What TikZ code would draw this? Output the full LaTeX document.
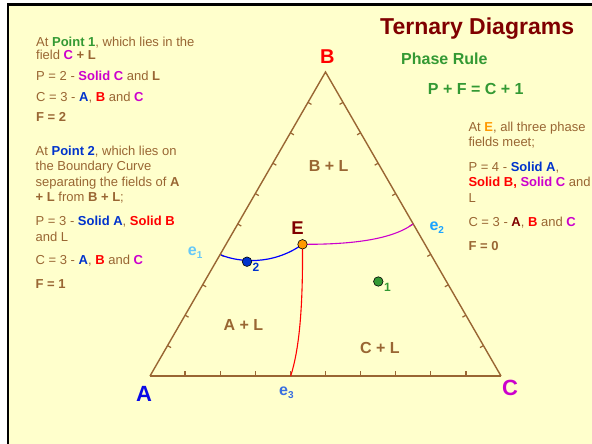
\documentclass[tikz,border=0pt]{standalone}
\usepackage{fontspec}
\usetikzlibrary{calc}
\setmainfont{Liberation Sans}
\definecolor{bgy}{HTML}{FFFFCC}
\definecolor{brn}{HTML}{996633}
\definecolor{pgreen}{HTML}{339933}
\definecolor{pblue}{HTML}{0033CC}
\definecolor{pred}{HTML}{FF0000}
\definecolor{pmag}{HTML}{CC00CC}
\definecolor{porange}{HTML}{FF9900}
\definecolor{pdred}{HTML}{800000}
\definecolor{eone}{HTML}{66C8F8}
\definecolor{etwo}{HTML}{1AA3FF}
\definecolor{ethree}{HTML}{3A6FE0}
\definecolor{abl}{HTML}{0A0AE6}
\newcommand\bld[2]{\textcolor{#1}{\textbf{#2}}}
\begin{document}
\begin{tikzpicture}[x=1pt,y=-1pt,
  txt/.style={anchor=base west,inner sep=0pt,text=brn,font=\fontsize{13}{15}\selectfont},
  vlab/.style={inner sep=0pt,font=\fontsize{22}{22}\selectfont\bfseries},
  reg/.style={inner sep=0pt,text=brn,font=\fontsize{16}{16}\selectfont\bfseries},
  elab/.style={anchor=base west,inner sep=0pt,font=\fontsize{16}{16}\selectfont\bfseries},
  plab/.style={anchor=base west,inner sep=0pt,font=\fontsize{12}{12}\selectfont\bfseries},
  side/.style={draw=brn,line width=1.4pt},
  tick/.style={draw=brn,line width=1.2pt},
  dot/.style={circle,draw=black,line width=0.6pt,minimum size=9.5pt,inner sep=0pt}]
\useasboundingbox (0,0) rectangle (592,444);
\fill[white] (0,0) rectangle (592,444);
\fill[bgy] (8,4.7) rectangle (592,444);
\draw[black,line width=2.7pt] (8,444) -- (8,4.7) -- (592,4.7);

% triangle corners
\coordinate (A) at (150,376);
\coordinate (C) at (501,376);
\coordinate (B) at (325.5,72);
\draw[side] (A) -- (B) -- (C);
\draw[brn,line width=2.2pt] (A) -- (C);
% ticks
\foreach \k in {1,...,9}{
  \draw[tick] ($(A)!\k/10!(C)$) -- ++(0,-5);
  \draw[tick] ($(A)!\k/10!(B)$) -- ++(3.5,2.0);
  \draw[tick] ($(C)!\k/10!(B)$) -- ++(-3.5,2.0);
}

% vertex labels
\node[vlab,text=abl] (lA) at (144,393.5) {A};
\node[vlab,text=pmag] (lC) at (510,388) {C};
\node[vlab,text=pred,font=\fontsize{20}{20}\selectfont\bfseries] (lB) at (327.3,57) {B};

% boundary curves
\coordinate (e1) at (221,255);
\coordinate (e2) at (413,224);
\coordinate (e3) at (290.7,376);
\coordinate (Ep) at (302.5,244.3);
\draw[blue,line width=1.2pt] (e1) .. controls (238,262) and (272,266) .. (Ep);
\draw[pmag,line width=1.1pt] (Ep) .. controls (345,244.5) and (390,241) .. (e2);
\draw[red,line width=1.1pt] (Ep) .. controls (303,310) and (299,350) .. (e3);

% points
\node[dot,fill=pblue] (p2) at (247,261.7) {};
\node[dot,fill=pgreen] (p1) at (378.3,281.5) {};
\node[dot,fill=porange] (pE) at (302.5,244.3) {};
\node[plab,text=pblue] (n2) at (252.3,271.7) {2};
\node[plab,text=pgreen] (n1) at (384,291.7) {1};
\node[inner sep=0pt,text=pdred,font=\fontsize{18.5}{18.5}\selectfont\bfseries] (lE) at (297.5,228.3) {E};

% e labels
\node[elab,text=eone] (le1) at (187.7,255) {e\raisebox{-3.5pt}{\fontsize{10}{10}\selectfont 1}};
\node[elab,text=etwo] (le2) at (429.3,230) {e\raisebox{-3.5pt}{\fontsize{10}{10}\selectfont 2}};
\node[elab,text=ethree] (le3) at (279,395) {e\raisebox{-3.5pt}{\fontsize{10}{10}\selectfont 3}};

% region labels
\node[reg] (rBL) at (328.7,165.8) {B + L};
\node[reg] (rAL) at (243.3,324.7) {A + L};
\node[reg] (rCL) at (380,347.5) {C + L};

% title
\node[anchor=base west,inner sep=0pt,text=pdred,font=\fontsize{23}{23}\selectfont\bfseries] (title) at (380,35) {Ternary Diagrams};
\node[anchor=base west,inner sep=0pt,text=pgreen,font=\fontsize{16}{16}\selectfont\bfseries] (pr) at (401,65) {Phase Rule};
\node[anchor=base west,inner sep=0pt,text=pgreen,font=\fontsize{16}{16}\selectfont\bfseries] (eq) at (427.7,94.3) {P + F = C + 1};

% left text
\node[txt] (t1) at (36,46.7) {At \bld{pgreen}{Point 1}, which lies in the};
\node[txt] (t2) at (36,59.3) {field \bld{pmag}{C} \textbf{+ L}};
\node[txt] (t3) at (36,80.5) {P = 2 - \bld{pmag}{Solid C} and \textbf{L}};
\node[txt] (t4) at (36,101) {C = 3 - \bld{pblue}{A}, \bld{pred}{B} and \bld{pmag}{C}};
\node[txt] (t5) at (36,121.5) {\textbf{F = 2}};
\node[txt] (t6) at (35.5,155) {At \bld{pblue}{Point 2}, which lies on};
\node[txt] (t7) at (35.5,170) {the Boundary Curve};
\node[txt] (t8) at (35.5,186) {separating the fields of \textbf{A}};
\node[txt] (t9) at (35.5,201.5) {\textbf{+ L} from \textbf{B + L};};
\node[txt] (t10) at (35.5,225.5) {P = 3 - \bld{pblue}{Solid A}, \bld{pred}{Solid B}};
\node[txt] (t11) at (35.5,241.5) {and L};
\node[txt] (t12) at (35.5,264.3) {C = 3 - \bld{pblue}{A}, \bld{pred}{B} and \bld{pmag}{C}};
\node[txt] (t13) at (35.5,288) {\textbf{F = 1}};

% right text
\node[txt] (r1) at (468.3,131.5) {At \bld{porange}{E}, all three phase};
\node[txt] (r2) at (468.3,146.5) {fields meet;};
\node[txt] (r3) at (468.3,171.5) {P = 4 - \bld{pblue}{Solid A},};
\node[txt] (r4) at (468.3,186) {\bld{pred}{Solid B,} \bld{pmag}{Solid C} and};
\node[txt] (r5) at (468.3,202.5) {L};
\node[txt] (r6) at (468.3,226.5) {C = 3 - \bld{pdred}{A}, \bld{pred}{B} and \bld{pmag}{C}};
\node[txt] (r7) at (468.3,250.5) {\textbf{F = 0}};
\end{tikzpicture}
\end{document}
